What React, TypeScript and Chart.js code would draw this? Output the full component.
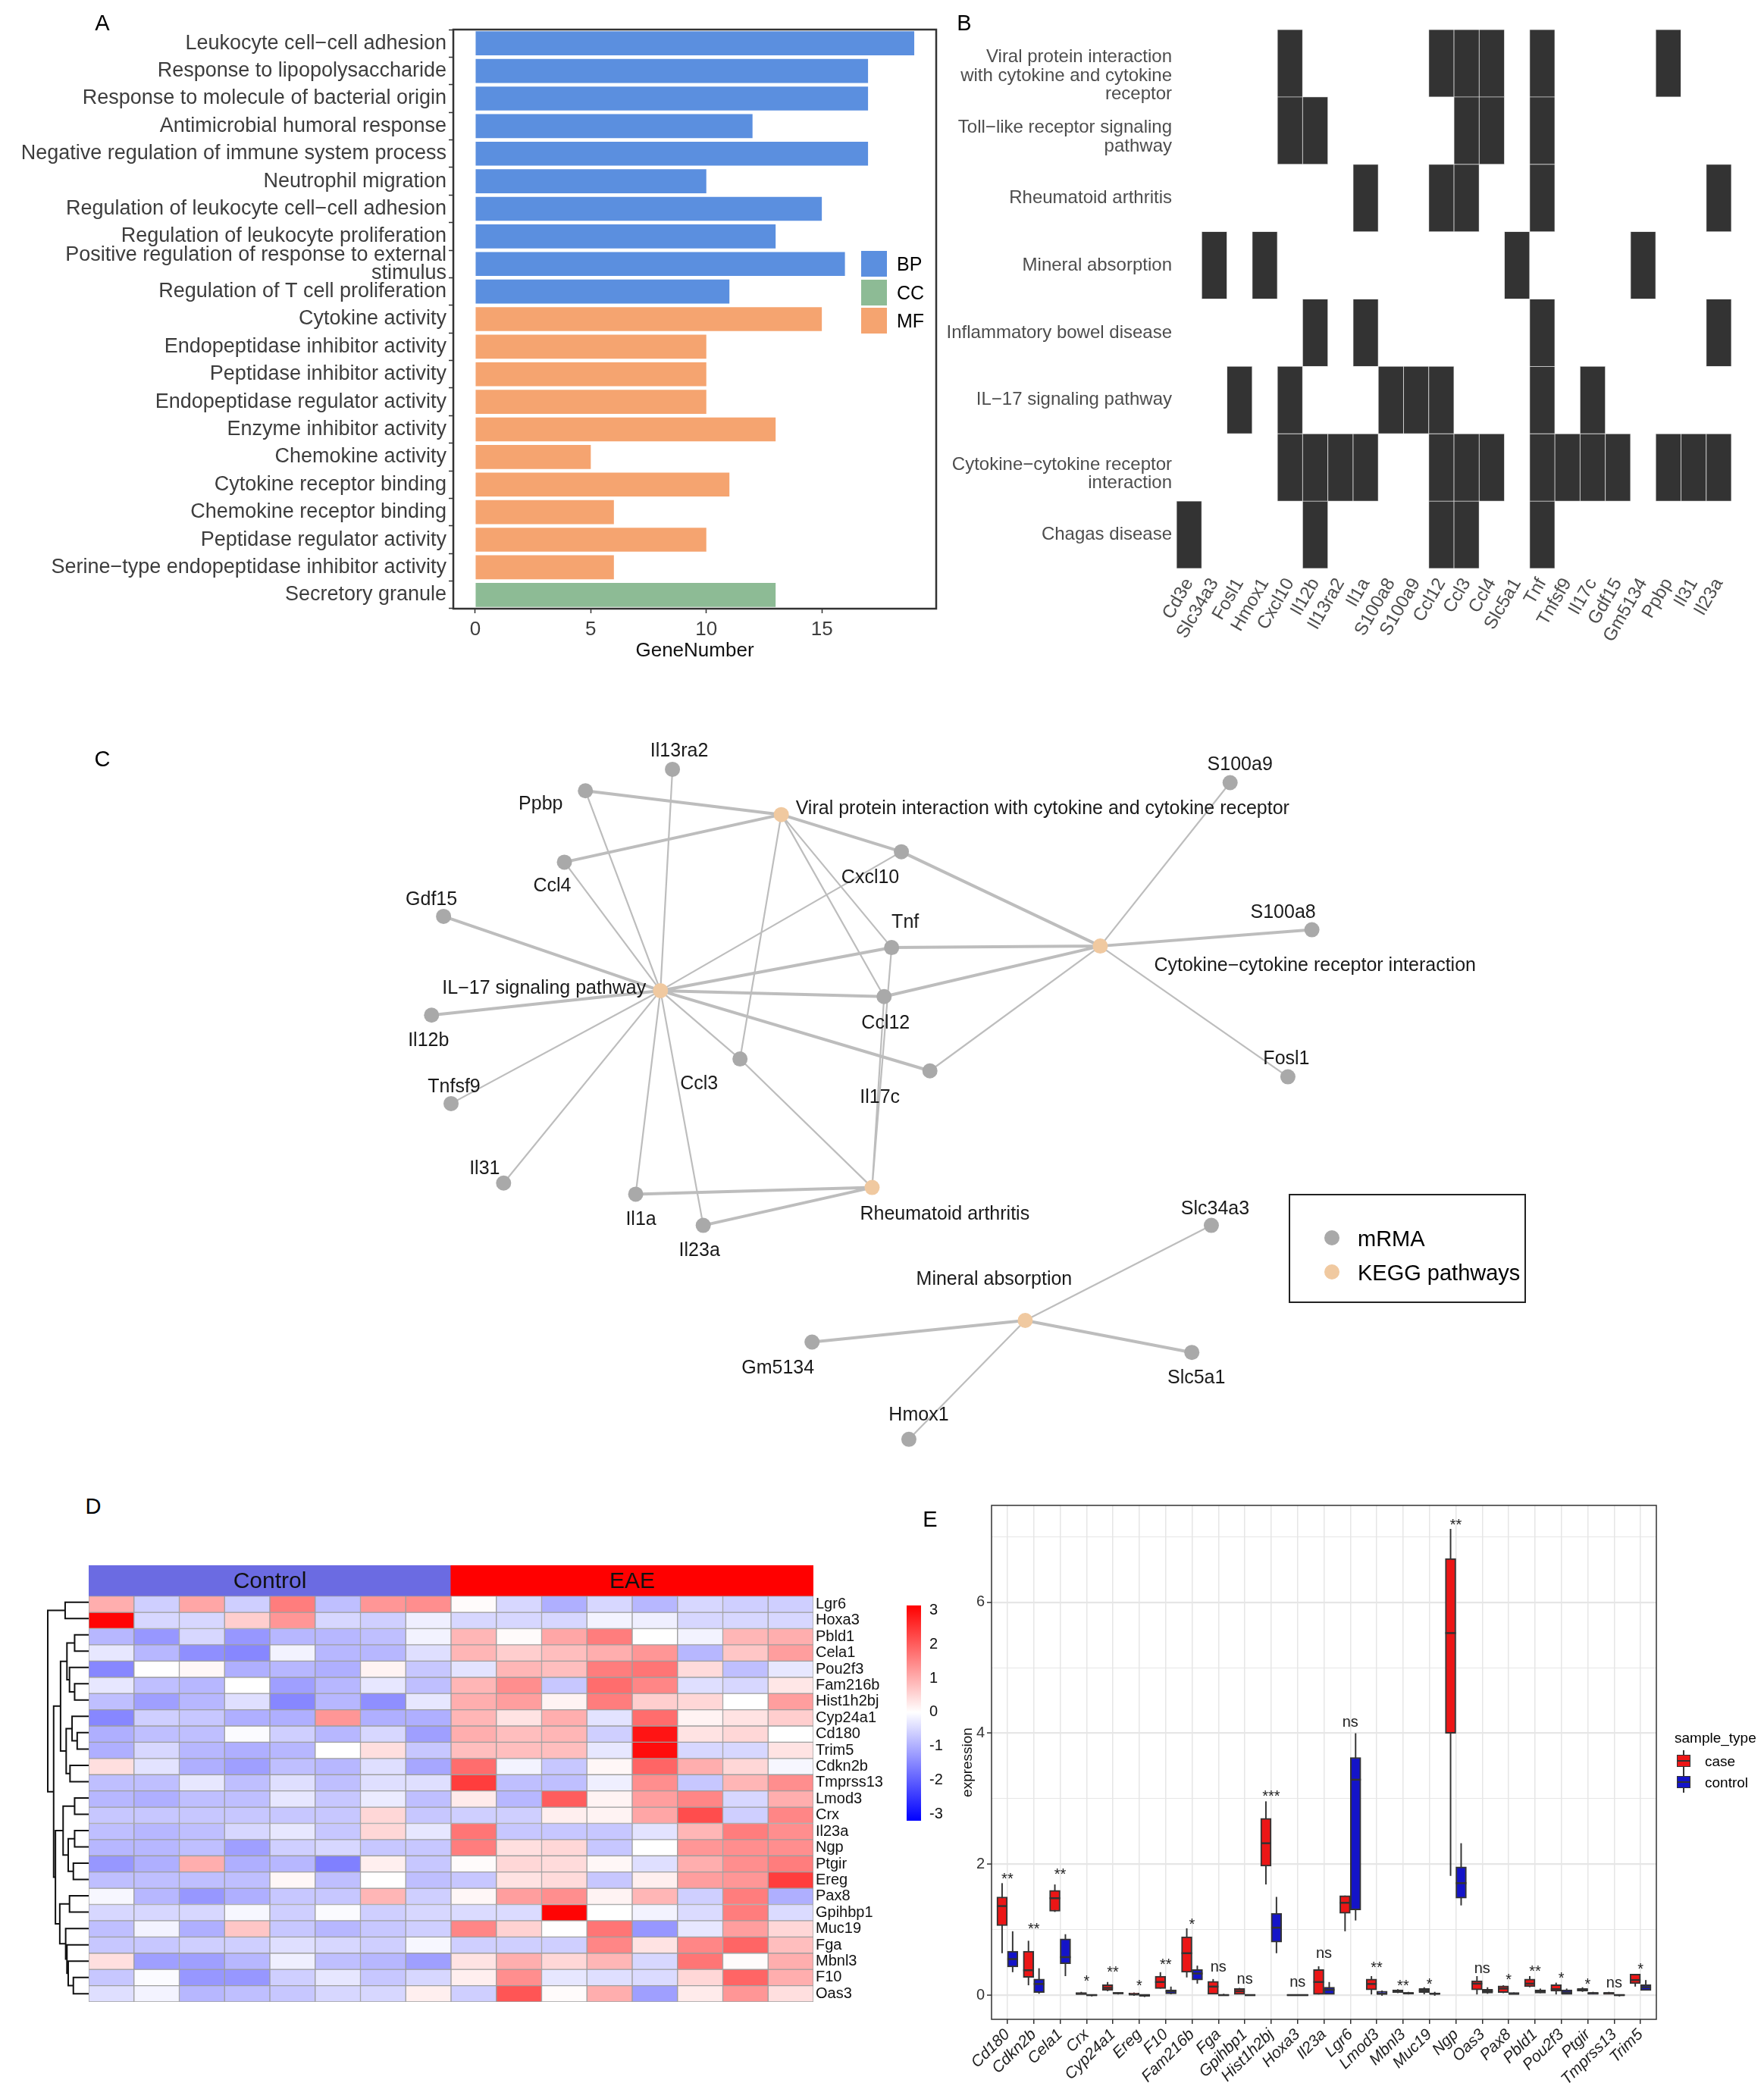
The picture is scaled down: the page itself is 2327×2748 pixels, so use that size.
import React, { useEffect, useRef } from "react";
import { Chart, registerables } from "chart.js";

Chart.register(...registerables);
const FONT = "'Liberation Sans', Arial, Helvetica, sans-serif";
Chart.defaults.font.family = FONT;

// ================= Panel A : GO enrichment =================
const goTerms = [
  "Leukocyte cell\u2212cell adhesion",
  "Response to lipopolysaccharide",
  "Response to molecule of bacterial origin",
  "Antimicrobial humoral response",
  "Negative regulation of immune system process",
  "Neutrophil migration",
  "Regulation of leukocyte cell\u2212cell adhesion",
  "Regulation of leukocyte proliferation",
  "Positive regulation of response to external\nstimulus",
  "Regulation of T cell proliferation",
  "Cytokine activity",
  "Endopeptidase inhibitor activity",
  "Peptidase inhibitor activity",
  "Endopeptidase regulator activity",
  "Enzyme inhibitor activity",
  "Chemokine activity",
  "Cytokine receptor binding",
  "Chemokine receptor binding",
  "Peptidase regulator activity",
  "Serine\u2212type endopeptidase inhibitor activity",
  "Secretory granule",
];
const goGeneNumber = [19, 17, 17, 12, 17, 10, 15, 13, 16, 11, 15, 10, 10, 10, 13, 5, 11, 6, 10, 6, 13];
const goOntology = ["BP", "BP", "BP", "BP", "BP", "BP", "BP", "BP", "BP", "BP", "MF", "MF", "MF", "MF", "MF", "MF", "MF", "MF", "MF", "MF", "CC"];
const ontologyLevels = ["BP", "CC", "MF"];
const geneNumberTicks = [0, 5, 10, 15];
const ONT_COLORS: Record<string, string> = { BP: "#5B8FDF", CC: "#8DBB95", MF: "#F5A470" };

// ================= Panel B : KEGG gene membership =================
const keggGenes = ["Cd3e", "Slc34a3", "Fosl1", "Hmox1", "Cxcl10", "Il12b", "Il13ra2", "Il1a", "S100a8", "S100a9", "Ccl12", "Ccl3", "Ccl4", "Slc5a1", "Tnf", "Tnfsf9", "Il17c", "Gdf15", "Gm5134", "Ppbp", "Il31", "Il23a"];
const keggPathways = [
  "Viral protein interaction\nwith cytokine and cytokine\nreceptor",
  "Toll\u2212like receptor signaling\npathway",
  "Rheumatoid arthritis",
  "Mineral absorption",
  "Inflammatory bowel disease",
  "IL\u221217 signaling pathway",
  "Cytokine\u2212cytokine receptor\ninteraction",
  "Chagas disease",
];
const keggMembers = [
  ["Cxcl10", "Ccl12", "Ccl3", "Ccl4", "Tnf", "Ppbp"],
  ["Cxcl10", "Il12b", "Ccl3", "Ccl4", "Tnf"],
  ["Il1a", "Ccl12", "Ccl3", "Tnf", "Il23a"],
  ["Slc34a3", "Hmox1", "Slc5a1", "Gm5134"],
  ["Il12b", "Il1a", "Tnf", "Il23a"],
  ["Fosl1", "Cxcl10", "S100a8", "S100a9", "Ccl12", "Tnf", "Il17c"],
  ["Cxcl10", "Il12b", "Il13ra2", "Il1a", "Ccl12", "Ccl3", "Ccl4", "Tnf", "Tnfsf9", "Il17c", "Gdf15", "Ppbp", "Il31", "Il23a"],
  ["Cd3e", "Il12b", "Ccl12", "Ccl3", "Tnf"],
];
const KEGG_LABEL_LINE_SHIFT = 0.095; // label drop per extra text line (rows) – layout only

// ================= Panel C : gene-pathway network =================
const netIds = ["Il13ra2", "Ppbp", "VIRAL", "Cxcl10", "Ccl4", "Gdf15", "Tnf", "CYTO", "S100a9", "S100a8", "IL17", "Il12b", "Ccl12", "Ccl3", "Il17c", "Fosl1", "Tnfsf9", "Il31", "Il1a", "Il23a", "RA", "Slc34a3", "MIN", "Gm5134", "Slc5a1", "Hmox1"];
const netLabels = ["Il13ra2", "Ppbp", "Viral protein interaction with cytokine and cytokine receptor", "Cxcl10", "Ccl4", "Gdf15", "Tnf", "Cytokine\u2212cytokine receptor interaction", "S100a9", "S100a8", "IL\u221217 signaling pathway", "Il12b", "Ccl12", "Ccl3", "Il17c", "Fosl1", "Tnfsf9", "Il31", "Il1a", "Il23a", "Rheumatoid arthritis", "Slc34a3", "Mineral absorption", "Gm5134", "Slc5a1", "Hmox1"];
const netX = [8.85, 7.69, 10.30, 11.90, 7.41, 5.80, 11.77, 14.55, 16.28, 17.37, 8.69, 5.64, 11.67, 9.75, 12.28, 17.05, 5.90, 6.60, 8.36, 9.26, 11.51, 16.03, 13.55, 10.71, 15.77, 12.00];
const netY = [10.06, 10.35, 10.67, 11.17, 11.31, 12.04, 12.46, 12.44, 10.24, 12.22, 13.04, 13.37, 13.12, 13.96, 14.12, 14.20, 14.56, 15.63, 15.78, 16.20, 15.69, 16.20, 17.48, 17.77, 17.91, 19.08];
const netKind = ["gene", "gene", "pathway", "gene", "gene", "gene", "gene", "pathway", "gene", "gene", "pathway", "gene", "gene", "gene", "gene", "gene", "gene", "gene", "gene", "gene", "pathway", "gene", "pathway", "gene", "gene", "gene"];
const netEdges: [string, string, number][] = [
  ["VIRAL", "Ppbp", 1], ["VIRAL", "Ccl4", 1], ["VIRAL", "Cxcl10", 1], ["VIRAL", "Tnf", 0], ["VIRAL", "Ccl12", 0], ["VIRAL", "Ccl3", 0],
  ["IL17", "Ppbp", 0], ["IL17", "Il13ra2", 0], ["IL17", "Ccl4", 0], ["IL17", "Gdf15", 1], ["IL17", "Il12b", 1], ["IL17", "Tnfsf9", 0],
  ["IL17", "Il31", 0], ["IL17", "Il1a", 0], ["IL17", "Il23a", 0], ["IL17", "Cxcl10", 0], ["IL17", "Tnf", 1], ["IL17", "Ccl12", 1],
  ["IL17", "Il17c", 1], ["IL17", "Ccl3", 0],
  ["CYTO", "Cxcl10", 1], ["CYTO", "Tnf", 1], ["CYTO", "Ccl12", 1], ["CYTO", "Il17c", 0], ["CYTO", "S100a9", 0], ["CYTO", "S100a8", 1], ["CYTO", "Fosl1", 0],
  ["RA", "Il1a", 1], ["RA", "Il23a", 1], ["RA", "Ccl3", 0], ["RA", "Ccl12", 0], ["RA", "Tnf", 0],
  ["MIN", "Slc34a3", 0], ["MIN", "Gm5134", 1], ["MIN", "Slc5a1", 1], ["MIN", "Hmox1", 0],
];
const netLegend = ["mRMA", "KEGG pathways"];
const NET_COLORS: Record<string, string> = { gene: "#A9A9A9", pathway: "#F0C9A0" };
// label placement (pixel offsets from node, alignment) – layout only
const NET_LABEL_POS: Record<string, [number, number, CanvasTextAlign]> = {
  Il13ra2: [9, -24, "center"], Ppbp: [-59, 18, "center"], VIRAL: [19, -8, "left"], Cxcl10: [-41, 34, "center"],
  Ccl4: [-16, 32, "center"], Gdf15: [-16, -22, "center"], Tnf: [18, -33, "center"], CYTO: [71, 26, "left"],
  S100a9: [13, -23, "center"], S100a8: [-38, -22, "center"], IL17: [-19, -3, "right"], Il12b: [-4, 34, "center"],
  Ccl12: [2, 35, "center"], Ccl3: [-54, 33, "center"], Il17c: [-66, 35, "center"], Fosl1: [-2, -23, "center"],
  Tnfsf9: [4, -22, "center"], Il31: [-25, -19, "center"], Il1a: [7, 34, "center"], Il23a: [-5, 34, "center"],
  RA: [-16, 35, "left"], Slc34a3: [5, -21, "center"], MIN: [-41, -54, "center"], Gm5134: [-45, 35, "center"],
  Slc5a1: [6, 34, "center"], Hmox1: [13, -32, "center"],
};

// ================= Panel D : heatmap =================
const heatGenes = ["Lgr6", "Hoxa3", "Pbld1", "Cela1", "Pou2f3", "Fam216b", "Hist1h2bj", "Cyp24a1", "Cd180", "Trim5", "Cdkn2b", "Tmprss13", "Lmod3", "Crx", "Il23a", "Ngp", "Ptgir", "Ereg", "Pax8", "Gpihbp1", "Muc19", "Fga", "Mbnl3", "F10", "Oas3"];
const heatSamples = ["C1", "C2", "C3", "C4", "C5", "C6", "C7", "C8", "E1", "E2", "E3", "E4", "E5", "E6", "E7", "E8"];
const heatSampleGroup = ["Control", "Control", "Control", "Control", "Control", "Control", "Control", "Control", "EAE", "EAE", "EAE", "EAE", "EAE", "EAE", "EAE", "EAE"];
const heatGroups = ["Control", "EAE"];
const heatValues = [
  [1.0, -0.6, 1.1, -0.6, 1.6, -0.8, 1.3, 1.4, 0.05, -0.5, -1.0, -0.5, -0.9, -0.5, -0.6, -0.6],
  [3.1, -0.5, -0.5, 0.6, 1.3, -0.5, -0.6, -0.2, -0.5, -0.5, -0.5, -0.15, -0.2, -0.5, -0.5, -0.5],
  [-0.9, -1.3, -0.5, -1.3, -0.9, -0.9, -0.8, -0.15, 0.9, 0.05, 1.1, 1.6, 0.0, -0.15, 0.9, 1.0],
  [-0.3, -0.9, -1.4, -1.5, -0.15, -0.9, -0.9, -0.4, 0.9, 0.6, 0.8, 1.0, 1.3, -0.9, 0.7, 1.2],
  [-1.5, 0.0, 0.1, -1.0, -0.9, -1.0, 0.15, -0.7, -0.35, 0.9, 0.8, 1.6, 1.7, 0.45, -0.8, -0.3],
  [-0.3, -0.8, -0.9, 0.0, -1.2, -0.9, -0.3, -0.8, 0.9, 1.4, -0.7, 1.8, 1.5, -0.4, -0.5, 0.3],
  [-0.8, -1.2, -0.9, -0.4, -1.5, -0.9, -1.4, -0.3, 1.0, 1.2, 0.15, 1.6, 0.6, 0.5, 0.0, 1.2],
  [-1.5, -0.6, -0.7, -1.0, -1.0, 1.3, -1.0, -1.0, 0.9, 0.35, 1.0, -0.35, 1.8, 0.15, 0.35, 0.6],
  [-1.0, -0.8, -0.8, -0.05, -0.6, -0.9, -0.5, -1.2, 1.0, 0.8, 0.9, -0.6, 2.9, 0.35, 0.5, 0.0],
  [-1.0, -0.5, -0.9, -1.0, -0.9, 0.0, 0.4, -0.7, 0.8, 0.8, 0.8, -0.3, 3.0, -0.5, -0.5, 0.35],
  [0.4, -0.35, -1.0, -1.2, -0.8, -0.9, -0.4, -1.1, 1.8, -0.15, -0.7, 0.1, 1.9, 1.0, 0.5, -0.1],
  [-0.8, -0.8, -0.3, -0.8, -0.4, -0.8, -0.4, -0.4, 2.4, -0.8, -0.8, -0.2, 1.4, -0.7, 0.9, 1.4],
  [-0.9, -1.0, -0.8, -0.8, -0.3, -0.7, -0.25, -0.8, 0.25, -0.9, 2.0, 0.15, 1.2, 1.5, -0.5, 1.0],
  [-0.7, -0.7, -0.7, -0.7, -0.7, -0.7, 0.5, -0.7, -0.6, -0.6, 0.2, 0.15, 1.1, 2.2, -0.6, 1.5],
  [-0.8, -0.9, -0.8, -0.5, -0.3, -0.7, 0.5, -0.3, 1.7, -0.7, -0.7, -0.7, -0.35, 0.9, 1.6, 1.4],
  [-0.9, -0.9, -0.8, -1.2, -0.6, -0.5, -0.7, -0.7, 1.6, 0.4, 0.5, -0.7, 0.0, 1.3, 1.4, 1.4],
  [-1.3, -1.0, 1.0, -1.0, -0.9, -1.6, 0.2, -0.7, 0.05, 0.5, 0.45, 0.1, -0.4, 1.0, 1.4, 1.6],
  [-0.8, -0.8, -0.8, -0.8, 0.1, -0.8, 0.0, -0.8, -0.7, 0.35, 0.45, -0.7, 0.2, 1.2, 1.3, 2.4],
  [-0.1, -0.9, -1.3, -1.0, -0.7, -0.7, 0.9, -0.6, 0.1, 1.2, 1.4, 0.15, 0.9, -0.6, 1.6, -1.0],
  [-0.5, -0.5, -0.5, -0.1, -0.6, -0.05, -0.6, -0.5, -0.45, -0.45, 3.1, 0.0, -0.15, -0.45, 1.6, -0.45],
  [-0.8, -0.15, -1.0, 0.7, -0.7, -0.9, -0.7, -0.6, 1.5, 0.55, 0.0, 1.7, -1.3, -0.3, 1.2, 0.5],
  [-0.7, -0.7, -0.6, -0.6, -0.4, -0.5, -0.6, -0.1, -0.6, -0.6, -0.6, 1.5, 0.35, 1.5, 1.9, 0.8],
  [0.4, -1.2, -1.2, -0.9, -0.2, -0.8, -0.9, -1.2, 0.35, 1.0, 0.5, 0.9, -0.5, 1.7, 0.05, 1.0],
  [-0.7, -0.05, -1.3, -1.3, -0.6, -0.3, -0.7, -0.5, 0.2, 1.4, -0.3, -0.4, -0.45, 0.5, 1.9, 1.0],
  [-0.4, -0.15, -0.9, -0.8, -0.7, -0.5, -0.5, 0.2, -0.6, 2.1, 0.05, 1.0, -1.2, 0.25, 1.3, 0.4],
];
// row dendrogram merges: [childA, childB, height]; index < 25 = leaf row, >= 25 = earlier merge
const dendroMerges: [number, number, number][] = [
  [0, 1, 92], [2, 3, 55], [5, 6, 55], [4, 27, 75], [26, 28, 85], [8, 9, 45], [7, 30, 65], [10, 11, 73],
  [31, 32, 88], [29, 33, 110], [12, 13, 55], [14, 15, 55], [16, 17, 60], [36, 37, 80], [35, 38, 100],
  [18, 19, 75], [23, 24, 60], [22, 41, 80], [21, 42, 85], [20, 43, 90], [40, 44, 113], [39, 45, 130],
  [34, 46, 137], [25, 47, 160],
];
const heatLegendTicks = [3, 2, 1, 0, -1, -2, -3];
const HEAT_MIN = -3.2;
const HEAT_MAX = 3.15;
const GROUP_COLORS: Record<string, string> = { Control: "#6B6BE2", EAE: "#FF0000" };

// ================= Panel E : boxplots =================
const exprGenes = ["Cd180", "Cdkn2b", "Cela1", "Crx", "Cyp24a1", "Ereg", "F10", "Fam216b", "Fga", "Gpihbp1", "Hist1h2bj", "Hoxa3", "Il23a", "Lgr6", "Lmod3", "Mbnl3", "Muc19", "Ngp", "Oas3", "Pax8", "Pbld1", "Pou2f3", "Ptgir", "Tmprss13", "Trim5"];
const caseMin = [0.64, 0.15, 1.27, 0.0, 0.06, -0.01, 0.1, 0.27, 0.0, 0.0, 1.69, -0.01, 0.01, 0.975, 0.01, 0.03, 0.0, 1.82, 0.01, 0.03, 0.12, 0.01, 0.05, 0.0, 0.13];
const caseQ1 = [1.06, 0.27, 1.28, 0.01, 0.07, 0.0, 0.1, 0.35, 0.0, 0.01, 1.97, -0.01, 0.01, 1.25, 0.08, 0.04, 0.04, 4.0, 0.08, 0.04, 0.13, 0.06, 0.06, 0.01, 0.175];
const caseMed = [1.36, 0.38, 1.48, 0.02, 0.11, 0.01, 0.2, 0.64, 0.13, 0.06, 2.32, 0.0, 0.2, 1.41, 0.17, 0.06, 0.07, 5.53, 0.175, 0.1, 0.175, 0.09, 0.08, 0.03, 0.23];
const caseQ3 = [1.5, 0.67, 1.6, 0.04, 0.16, 0.03, 0.29, 0.89, 0.21, 0.1, 2.7, 0.01, 0.39, 1.52, 0.245, 0.08, 0.1, 6.67, 0.22, 0.14, 0.245, 0.16, 0.1, 0.04, 0.32];
const caseMax = [1.71, 0.83, 1.69, 0.05, 0.2, 0.04, 0.35, 1.02, 0.245, 0.11, 2.96, 0.01, 0.44, 1.52, 0.29, 0.09, 0.12, 7.12, 0.29, 0.15, 0.29, 0.19, 0.12, 0.05, 0.32];
const ctrlMin = [0.35, 0.02, 0.29, -0.02, 0.01, -0.03, 0.0, 0.175, -0.01, -0.01, 0.64, -0.01, 0.0, 1.14, -0.01, 0.01, -0.01, 1.37, 0.02, 0.0, 0.03, 0.0, 0.0, -0.02, 0.07];
const ctrlQ1 = [0.43, 0.04, 0.48, -0.01, 0.02, -0.02, 0.02, 0.23, -0.01, -0.01, 0.81, -0.01, 0.01, 1.3, 0.0, 0.015, 0.0, 1.48, 0.03, 0.0, 0.03, 0.01, 0.01, -0.01, 0.07];
const ctrlMed = [0.55, 0.17, 0.58, 0.0, 0.03, 0.0, 0.06, 0.33, 0.0, 0.0, 1.03, 0.0, 0.08, 3.29, 0.02, 0.03, 0.02, 1.71, 0.06, 0.02, 0.06, 0.04, 0.03, 0.0, 0.12];
const ctrlQ3 = [0.67, 0.245, 0.86, 0.01, 0.04, 0.01, 0.08, 0.39, 0.01, 0.01, 1.25, 0.01, 0.12, 3.63, 0.06, 0.04, 0.035, 1.96, 0.09, 0.04, 0.08, 0.08, 0.04, 0.01, 0.16];
const ctrlMax = [0.975, 0.41, 0.93, 0.01, 0.04, 0.01, 0.13, 0.45, 0.02, 0.01, 1.5, 0.01, 0.2, 4.0, 0.07, 0.05, 0.05, 2.32, 0.12, 0.04, 0.1, 0.1, 0.05, 0.01, 0.23];
const exprSig = ["**", "**", "**", "*", "**", "*", "**", "*", "ns", "ns", "***", "ns", "ns", "ns", "**", "**", "*", "**", "ns", "*", "**", "*", "*", "ns", "*"];
const exprSigY = [1.83, 1.06, 1.9, 0.27, 0.41, 0.2, 0.52, 1.14, 0.43, 0.245, 3.09, 0.2, 0.64, 4.17, 0.47, 0.2, 0.22, 7.24, 0.41, 0.29, 0.42, 0.315, 0.22, 0.19, 0.45];
const exprYMajor = [0, 2, 4, 6];
const exprYMinor = [1, 3, 5, 7];
const sampleTypes = ["case", "control"];
const SAMPLE_COLORS: Record<string, string> = { case: "#EC1616", control: "#1414C8" };
const DODGE: Record<string, number> = { case: -0.2, control: 0.2 }; // position_dodge, layout only

// ================= helpers =================
function heatColor(v: number) {
  if (v >= 0) {
    const t = Math.min(v / HEAT_MAX, 1);
    const c = Math.round(255 * (1 - t));
    return `rgb(255,${c},${c})`;
  }
  const t = Math.min(v / HEAT_MIN, 1);
  const c = Math.round(255 * (1 - t));
  return `rgb(${c},${c},255)`;
}

const framePlugin = (color: string, width: number) => ({
  id: "frame",
  afterDraw(chart: any) {
    const { ctx, chartArea: a } = chart;
    ctx.save();
    ctx.strokeStyle = color;
    ctx.lineWidth = width;
    ctx.strokeRect(a.left, a.top, a.right - a.left, a.bottom - a.top);
    ctx.restore();
  },
});

const baseOptions = () => ({
  responsive: false,
  animation: false,
  devicePixelRatio: 1,
  plugins: { legend: { display: false }, tooltip: { enabled: false } },
});

// ---------- A ----------
function makeGoConfig() {
  return {
    type: "bar",
    data: {
      labels: goTerms.map((t) => (t.includes("\n") ? t.split("\n") : t)),
      datasets: [
        {
          data: goGeneNumber,
          backgroundColor: goOntology.map((o) => ONT_COLORS[o]),
          barPercentage: 0.87,
          categoryPercentage: 1,
        },
      ],
    },
    options: {
      ...baseOptions(),
      indexAxis: "y",
      layout: { padding: { top: 39, right: 5, left: 0, bottom: 0 } },
      scales: {
        y: {
          grid: { drawOnChartArea: false, tickLength: 6, tickColor: "#333", tickWidth: 1.5 },
          border: { display: false },
          ticks: { color: "#3d3d3d", font: { size: 27, lineHeight: 0.88 }, padding: 3, autoSkip: false },
          afterFit: (s: any) => { s.width = 598; },
        },
        x: {
          type: "linear",
          min: -0.95,
          max: 19.95,
          grid: { drawOnChartArea: false, tickLength: 6, tickColor: "#333", tickWidth: 1.5 },
          border: { display: false },
          afterBuildTicks: (s: any) => { s.ticks = geneNumberTicks.map((v) => ({ value: v })); },
          ticks: { color: "#3d3d3d", font: { size: 26 }, padding: 6 },
          title: { display: true, text: "GeneNumber", color: "#111", font: { size: 26 }, padding: { top: 0, bottom: 6 } },
          afterFit: (s: any) => { s.height = 77; },
        },
      },
    },
    plugins: [framePlugin("#333", 2.5)],
  };
}

// ---------- B ----------
function makeKeggConfig() {
  return {
    type: "bar",
    data: {
      labels: keggGenes,
      datasets: keggPathways.map((_, r) => ({
        data: keggGenes.map((g) => (keggMembers[r].includes(g) ? [r, r + 1] : null)),
        backgroundColor: "#333333",
        borderColor: "#D4D4D4",
        borderWidth: 0.8,
        borderSkipped: false,
        grouped: false,
        barPercentage: 1,
        categoryPercentage: 1,
      })),
    },
    options: {
      ...baseOptions(),
      layout: { padding: { top: 39, right: 43, left: 0, bottom: 0 } },
      scales: {
        x: {
          grid: { display: false, drawTicks: false },
          border: { display: false },
          ticks: { minRotation: 60, maxRotation: 60, autoSkip: false, color: "#4d4d4d", font: { size: 24 }, padding: 8 },
          afterFit: (s: any) => { s.height = 130; },
        },
        y: {
          type: "linear",
          min: 0,
          max: keggPathways.length,
          reverse: true,
          grid: { display: false, drawTicks: false },
          border: { display: false },
          afterBuildTicks: (s: any) => {
            s.ticks = keggPathways.map((p, r) => ({ value: r + 0.5 + (p.split("\n").length - 1) * KEGG_LABEL_LINE_SHIFT }));
          },
          ticks: {
            autoSkip: false,
            color: "#4d4d4d",
            font: { size: 24, lineHeight: 1.02 },
            padding: 6,
            callback: (v: any) => keggPathways[Math.floor(v)].split("\n"),
          },
          afterFit: (s: any) => { s.width = 312; },
        },
      },
    },
  };
}

// ---------- C ----------
function makeNetConfig() {
  const idx = (id: string) => netIds.indexOf(id);
  const edgePts = (w: number) => {
    const pts: any[] = [];
    netEdges.filter((e) => e[2] === w).forEach(([a, b]) => {
      const i = idx(a), j = idx(b);
      pts.push({ x: netX[i], y: netY[i] }, { x: netX[j], y: netY[j] }, { x: NaN, y: NaN });
    });
    return pts;
  };
  const labelPlugin = {
    id: "netLabels",
    afterDatasetsDraw(chart: any) {
      const { ctx, scales: { x, y } } = chart;
      ctx.save();
      ctx.font = `25px ${FONT}`;
      ctx.fillStyle = "#1a1a1a";
      ctx.textBaseline = "middle";
      netIds.forEach((id, i) => {
        const [dx, dy, al] = NET_LABEL_POS[id];
        ctx.textAlign = al;
        ctx.fillText(netLabels[i], x.getPixelForValue(netX[i]) + dx, y.getPixelForValue(netY[i]) + dy);
      });
      ctx.restore();
    },
  };
  return {
    type: "scatter",
    data: {
      datasets: [
        {
          data: netIds.map((_, i) => ({ x: netX[i], y: netY[i] })),
          pointRadius: 10,
          pointBackgroundColor: netKind.map((k) => NET_COLORS[k]),
          pointBorderWidth: 0,
          order: 0,
        },
        { data: edgePts(1), showLine: true, borderColor: "#BDBDBD", borderWidth: 4, pointRadius: 0, spanGaps: false, order: 1 },
        { data: edgePts(0), showLine: true, borderColor: "#BDBDBD", borderWidth: 2.2, pointRadius: 0, spanGaps: false, order: 1 },
      ],
    },
    options: {
      ...baseOptions(),
      layout: { padding: 0 },
      scales: {
        x: { type: "linear", display: false, min: 0.9, max: 21.0 },
        y: { type: "linear", display: false, min: 9.5, max: 19.5, reverse: true },
      },
    },
    plugins: [labelPlugin],
  };
}

// ---------- D ----------
const ANNOT_ROWS = 1.9;
const HEAT_PAD = { top: 12, bottom: 19 };
function makeHeatConfig() {
  const annotPlugin = {
    id: "annotText",
    afterDatasetsDraw(chart: any) {
      const { ctx, scales: { x, y } } = chart;
      ctx.save();
      ctx.font = `30px ${FONT}`;
      ctx.fillStyle = "#111";
      ctx.textAlign = "center";
      ctx.textBaseline = "middle";
      heatGroups.forEach((g) => {
        const cols = heatSampleGroup.map((s, i) => (s === g ? i : -1)).filter((i) => i >= 0);
        const cx = (x.getPixelForValue(cols[0]) + x.getPixelForValue(cols[cols.length - 1])) / 2;
        ctx.fillText(g, cx, y.getPixelForValue(-ANNOT_ROWS / 2) + 1);
      });
      ctx.restore();
    },
  };
  const datasets: any[] = heatGenes.map((_, r) => ({
    data: heatSamples.map(() => [r, r + 1]),
    backgroundColor: heatValues[r].map(heatColor),
    borderColor: "#9E9E9E",
    borderWidth: 1,
    borderSkipped: false,
    grouped: false,
    barPercentage: 1,
    categoryPercentage: 1,
  }));
  datasets.push({
    data: heatSamples.map(() => [-ANNOT_ROWS, 0]),
    backgroundColor: heatSampleGroup.map((g) => GROUP_COLORS[g]),
    borderWidth: 0,
    grouped: false,
    barPercentage: 1,
    categoryPercentage: 1,
    inflateAmount: 0.6,
  });
  return {
    type: "bar",
    data: { labels: heatSamples, datasets },
    options: {
      ...baseOptions(),
      layout: { padding: { top: HEAT_PAD.top, bottom: HEAT_PAD.bottom, left: 0, right: 0 } },
      scales: {
        x: { display: false },
        y: {
          type: "linear",
          position: "right",
          min: -ANNOT_ROWS,
          max: heatGenes.length,
          reverse: true,
          grid: { display: false, drawTicks: false },
          border: { display: false },
          afterBuildTicks: (s: any) => { s.ticks = heatGenes.map((_, r) => ({ value: r + 0.5 })); },
          ticks: { autoSkip: false, color: "#111", font: { size: 20 }, padding: 3, callback: (v: any) => heatGenes[Math.floor(v)] },
          afterFit: (s: any) => { s.width = 107; },
        },
      },
    },
    plugins: [annotPlugin],
  };
}

function makeDendroConfig() {
  const nodeY: number[] = heatGenes.map((_, r) => r + 0.5);
  const nodeH: number[] = heatGenes.map(() => 0);
  const pts: any[] = [];
  dendroMerges.forEach(([a, b, h]) => {
    pts.push({ x: nodeH[a], y: nodeY[a] }, { x: h, y: nodeY[a] }, { x: h, y: nodeY[b] }, { x: nodeH[b], y: nodeY[b] }, { x: NaN, y: NaN });
    nodeY.push((nodeY[a] + nodeY[b]) / 2);
    nodeH.push(h);
  });
  const maxH = Math.max(...dendroMerges.map((m) => m[2]));
  return {
    type: "scatter",
    data: { datasets: [{ data: pts, showLine: true, borderColor: "#111", borderWidth: 2, pointRadius: 0, spanGaps: false, clip: false }] },
    options: {
      ...baseOptions(),
      layout: { padding: { top: HEAT_PAD.top, bottom: HEAT_PAD.bottom, left: 8, right: 0 } },
      scales: {
        x: { type: "linear", display: false, min: 0, max: maxH, reverse: true },
        y: { type: "linear", display: false, min: -ANNOT_ROWS, max: heatGenes.length, reverse: true },
      },
    },
  };
}

function makeColorbarConfig() {
  const gradPlugin = {
    id: "grad",
    beforeDatasetsDraw(chart: any) {
      const { ctx, chartArea: a, scales: { y } } = chart;
      const g = ctx.createLinearGradient(0, y.getPixelForValue(HEAT_MAX), 0, y.getPixelForValue(HEAT_MIN));
      g.addColorStop(0, heatColor(HEAT_MAX));
      g.addColorStop(HEAT_MAX / (HEAT_MAX - HEAT_MIN), heatColor(0));
      g.addColorStop(1, heatColor(HEAT_MIN));
      ctx.save();
      ctx.fillStyle = g;
      ctx.fillRect(a.left, a.top, a.right - a.left, a.bottom - a.top);
      ctx.restore();
    },
  };
  return {
    type: "bar",
    data: { labels: [], datasets: [] },
    options: {
      ...baseOptions(),
      layout: { padding: { left: 16, top: 11, bottom: 12, right: 0 } },
      scales: {
        x: { display: false },
        y: {
          position: "right",
          min: HEAT_MIN,
          max: HEAT_MAX,
          grid: { display: false, drawTicks: false },
          border: { display: false },
          afterBuildTicks: (s: any) => { s.ticks = heatLegendTicks.map((v) => ({ value: v })); },
          ticks: { color: "#111", font: { size: 20 }, padding: 11 },
          afterFit: (s: any) => { s.width = 45; },
        },
      },
    },
    plugins: [gradPlugin],
  };
}

// ---------- E ----------
function makeBoxConfig() {
  const n = exprGenes.length;
  const whisker = (mins: number[], maxs: number[], type: string) => ({
    data: exprGenes.map((_, i) => ({ x: i + DODGE[type], y: [mins[i], maxs[i]] })),
    backgroundColor: "#333333",
    grouped: false,
    barPercentage: 0.14,
    categoryPercentage: 1,
    order: 2,
  });
  const box = (q1: number[], q3: number[], type: string) => ({
    data: exprGenes.map((_, i) => ({ x: i + DODGE[type], y: [q1[i], q3[i]] })),
    backgroundColor: SAMPLE_COLORS[type],
    borderColor: "#333333",
    borderWidth: 2,
    borderSkipped: false,
    grouped: false,
    barPercentage: 1,
    categoryPercentage: 1,
    order: 1,
  });
  const medianPlugin = {
    id: "medians",
    afterDatasetsDraw(chart: any) {
      const { ctx } = chart;
      const y = chart.scales.y;
      ctx.save();
      ctx.strokeStyle = "#333333";
      ctx.lineWidth = 2.5;
      ([[2, caseMed], [3, ctrlMed]] as [number, number[]][]).forEach(([di, med]) => {
        chart.getDatasetMeta(di).data.forEach((el: any, i: number) => {
          const { x, width } = el.getProps(["x", "width"], true);
          const py = y.getPixelForValue(med[i]);
          ctx.beginPath();
          ctx.moveTo(x - width / 2, py);
          ctx.lineTo(x + width / 2, py);
          ctx.stroke();
        });
      });
      ctx.restore();
    },
  };
  const sigPlugin = {
    id: "sig",
    afterDatasetsDraw(chart: any) {
      const { ctx, scales: { x, y } } = chart;
      ctx.save();
      ctx.font = `20px ${FONT}`;
      ctx.fillStyle = "#222";
      ctx.textAlign = "center";
      ctx.textBaseline = "alphabetic";
      exprSig.forEach((s, i) => {
        ctx.fillText(s, x.getPixelForValue(i), y.getPixelForValue(exprSigY[i]) + (s === "ns" ? 6 : 11));
      });
      ctx.restore();
    },
  };
  const isMajor = (v: number) => exprYMajor.includes(v);
  return {
    type: "bar",
    data: {
      datasets: [
        whisker(caseMin, caseMax, "case"),
        whisker(ctrlMin, ctrlMax, "control"),
        box(caseQ1, caseQ3, "case"),
        box(ctrlQ1, ctrlQ3, "control"),
      ],
    },
    options: {
      ...baseOptions(),
      layout: { padding: { top: 26, right: 142, left: 0, bottom: 0 } },
      scales: {
        x: {
          type: "linear",
          min: -0.6,
          max: n - 1 + 0.6,
          offset: false,
          grid: { offset: false, color: "#E6E6E6", lineWidth: 1.5, tickLength: 6, tickColor: "#333", tickWidth: 1.5 },
          border: { display: false },
          afterBuildTicks: (s: any) => { s.ticks = exprGenes.map((_, i) => ({ value: i })); },
          ticks: {
            autoSkip: false,
            minRotation: 45,
            maxRotation: 45,
            color: "#1e1e1e",
            font: { size: 21, style: "italic" },
            padding: 2,
            callback: (v: any) => exprGenes[Math.round(v)],
          },
          afterFit: (s: any) => { s.height = 84; },
        },
        y: {
          type: "linear",
          min: -0.37,
          max: 7.48,
          grid: {
            color: "#E6E6E6",
            lineWidth: (c: any) => (c.tick && isMajor(c.tick.value) ? 2.2 : 1.1),
            tickLength: 6,
            tickWidth: 1.5,
            tickColor: (c: any) => (c.tick && isMajor(c.tick.value) ? "#333" : "rgba(0,0,0,0)"),
          },
          border: { display: false },
          afterBuildTicks: (s: any) => { s.ticks = [...exprYMajor, ...exprYMinor].sort((a, b) => a - b).map((v) => ({ value: v })); },
          ticks: { color: "#333", font: { size: 20 }, padding: 3, callback: (v: any) => (isMajor(v) ? String(v) : "") },
          title: { display: true, text: "expression", color: "#111", font: { size: 19 }, padding: { top: 55, bottom: 0 } },
          afterFit: (s: any) => { s.width = 98; },
        },
      },
    },
    plugins: [medianPlugin, sigPlugin, framePlugin("#333", 1.5)],
  };
}

// ================= components =================
function ChartBox({ left, top, width, height, make }: any) {
  const ref = useRef<HTMLCanvasElement | null>(null);
  useEffect(() => {
    const chart = new Chart(ref.current as HTMLCanvasElement, make());
    return () => chart.destroy();
  }, []);
  return <canvas ref={ref} width={width} height={height} style={{ position: "absolute", left, top, width, height }} />;
}

function Txt({ x, y, size, text, align = "left", color = "#000", italic = false }: any) {
  const tx = align === "left" ? "0" : align === "center" ? "-50%" : "-100%";
  return (
    <div
      style={{
        position: "absolute",
        left: x,
        top: y,
        transform: `translate(${tx}, -50%)`,
        font: `${italic ? "italic " : ""}${size}px ${FONT}`,
        color,
        whiteSpace: "nowrap",
        lineHeight: 1,
      }}
    >
      {text}
    </div>
  );
}

export default function App() {
  return (
    <div style={{ position: "absolute", left: 0, top: 0, width: 2327, height: 2748, background: "#fff", overflow: "hidden" }}>
      <ChartBox left={0} top={0} width={1240} height={880} make={makeGoConfig} />
      <ChartBox left={1240} top={0} width={1087} height={880} make={makeKeggConfig} />
      <ChartBox left={90} top={950} width={2010} height={1000} make={makeNetConfig} />
      <ChartBox left={55} top={2050} width={62} height={610} make={makeDendroConfig} />
      <ChartBox left={117} top={2050} width={1063} height={610} make={makeHeatConfig} />
      <ChartBox left={1180} top={2095} width={80} height={330} make={makeColorbarConfig} />
      <ChartBox left={1210} top={1960} width={1117} height={788} make={makeBoxConfig} />

      {/* panel letters */}
      <Txt x={135} y={30} size={29} text="A" align="center" />
      <Txt x={1272} y={30} size={29} text="B" align="center" />
      <Txt x={135} y={1001} size={29} text="C" align="center" />
      <Txt x={123} y={1987} size={29} text="D" align="center" />
      <Txt x={1227} y={2004} size={29} text="E" align="center" />

      {/* legend A */}
      {ontologyLevels.map((o, i) => (
        <React.Fragment key={o}>
          <div style={{ position: "absolute", left: 1136, top: 331 + i * 37.5, width: 34, height: 34, background: ONT_COLORS[o] }} />
          <Txt x={1183} y={348 + i * 37.5} size={25} text={o} />
        </React.Fragment>
      ))}

      {/* legend C */}
      <div style={{ position: "absolute", left: 1700, top: 1575, width: 313, height: 144, border: "2px solid #222", boxSizing: "border-box" }} />
      {netLegend.map((t, i) => (
        <React.Fragment key={t}>
          <div style={{ position: "absolute", left: 1747, top: 1623 + i * 45, width: 20, height: 20, borderRadius: 10, background: i === 0 ? NET_COLORS.gene : NET_COLORS.pathway }} />
          <Txt x={1791} y={1634 + i * 45} size={29} text={t} />
        </React.Fragment>
      ))}

      {/* legend E */}
      <Txt x={2209} y={2292} size={19} text="sample_type" />
      {sampleTypes.map((s, i) => (
        <React.Fragment key={s}>
          <div style={{ position: "absolute", left: 2220, top: 2309 + i * 28, width: 2, height: 28, background: "#333" }} />
          <div style={{ position: "absolute", left: 2212, top: 2315 + i * 28, width: 18, height: 16, background: SAMPLE_COLORS[s], border: "1.5px solid #333", boxSizing: "border-box" }} />
          <div style={{ position: "absolute", left: 2212, top: 2322 + i * 28, width: 18, height: 2, background: "#333" }} />
          <Txt x={2249} y={2323 + i * 28} size={19} text={s} />
        </React.Fragment>
      ))}
    </div>
  );
}
